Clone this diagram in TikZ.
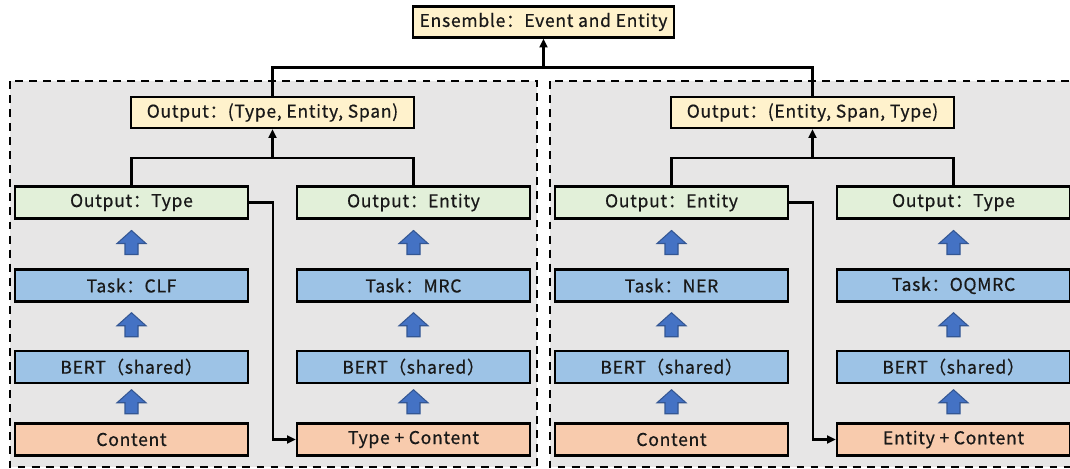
\documentclass[tikz,border=0pt]{standalone}
\usepackage{fontspec}
\setmainfont{Noto Sans CJK SC}[LetterSpace=4.0, FakeBold=0.6]
\usetikzlibrary{arrows.meta,calc}

\definecolor{fondo}{HTML}{E7E6E6}
\definecolor{amarillo}{HTML}{FFF2CC}
\definecolor{verde}{HTML}{E2F0D9}
\definecolor{azul}{HTML}{9DC3E6}
\definecolor{naranja}{HTML}{F8CBAD}
\definecolor{flecha}{HTML}{4472C4}

\begin{document}
\begin{tikzpicture}[x=0.02cm, y=-0.02cm,
    caja/.style={draw=black, line width=1.3pt, minimum width=4.66cm, minimum height=0.64cm,
        inner sep=0pt, text=black!90, font=\fontsize{10}{12}\selectfont},
    salida/.style={caja, fill=verde},
    tarea/.style={caja, fill=azul},
    entrada/.style={caja, fill=naranja},
    suma/.style={caja, fill=amarillo, minimum width=5.66cm, minimum height=0.62cm},
    panel/.style={draw=black, line width=1.3pt, fill=fondo, dash pattern=on 4.5pt off 3.5pt},
    linea/.style={draw=black, line width=1.5pt},
    conn/.style={linea, -{Triangle[length=5pt,width=4.5pt]}},
    subir/.pic={\draw[fill=flecha, draw=flecha!75!black, line width=0.6pt]
        (-6.5,12) -- (-6.5,1) -- (-14.5,1) -- (0,-12) -- (14.5,1) -- (6.5,1) -- (6.5,12) -- cycle;}]

    % Recorta al tamano de la figura
    \clip (0,0) rectangle (1070,469);

    % Dibuja los paneles
    \draw[panel] (10,81) rectangle (537,467);
    \draw[panel] (550,81) rectangle (1077,467);

    % Dibuja las cajas de arriba
    \node[suma, minimum width=5.22cm] (ens) at (543.5,22) {Ensemble：Event and Entity};
    \node[suma] (outL) at (272.5,112.5) {Output：(Type, Entity, Span)};
    \node[suma] (outR) at (812.5,112.5) {Output：(Entity, Span, Type)};

    % Dibuja el panel izquierdo
    \node[salida] (typeL) at (131.5,202.5) {Output：Type};
    \node[tarea] (clf) at (131.5,285.5) {Task：CLF};
    \node[tarea] (bertA) at (131.5,367) {BERT（shared）};
    \node[entrada] (contA) at (131.5,439.5) {Content};
    \node[salida] (entL) at (413.5,202.5) {Output：Entity};
    \node[tarea] (mrc) at (413.5,285.5) {Task：MRC};
    \node[tarea] (bertB) at (413.5,367) {BERT（shared）};
    \node[entrada] (typecont) at (413.5,439.5) {Type + Content};

    % Dibuja el panel derecho
    \node[salida] (entR) at (671.5,202.5) {Output：Entity};
    \node[tarea] (ner) at (671.5,285.5) {Task：NER};
    \node[tarea] (bertC) at (671.5,367) {BERT（shared）};
    \node[entrada] (contC) at (671.5,439.5) {Content};
    \node[salida] (typeR) at (953.5,202.5) {Output：Type};
    \node[tarea] (oqmrc) at (953.5,285.5) {Task：OQMRC};
    \node[tarea] (bertD) at (953.5,367) {BERT（shared）};
    \node[entrada] (entcont) at (953.5,439.5) {Entity + Content};

    % Dibuja las flechas gruesas
    \pic at ($(contA.north)!0.5!(bertA.south)+(0,-1.5)$) {subir};
    \pic at ($(bertA.north)!0.5!(clf.south)+(0,-1.5)$) {subir};
    \pic at ($(clf.north)!0.5!(typeL.south)+(0,-1.5)$) {subir};
    \pic at ($(typecont.north)!0.5!(bertB.south)+(0,-1.5)$) {subir};
    \pic at ($(bertB.north)!0.5!(mrc.south)+(0,-1.5)$) {subir};
    \pic at ($(mrc.north)!0.5!(entL.south)+(0,-1.5)$) {subir};
    \pic at ($(contC.north)!0.5!(bertC.south)+(0,-1.5)$) {subir};
    \pic at ($(bertC.north)!0.5!(ner.south)+(0,-1.5)$) {subir};
    \pic at ($(ner.north)!0.5!(entR.south)+(0,-1.5)$) {subir};
    \pic at ($(entcont.north)!0.5!(bertD.south)+(0,-1.5)$) {subir};
    \pic at ($(bertD.north)!0.5!(oqmrc.south)+(0,-1.5)$) {subir};
    \pic at ($(oqmrc.north)!0.5!(typeR.south)+(0,-1.5)$) {subir};

    % Dibuja las uniones
    \coordinate (jtop) at ($(ens.south)+(0,29)$);
    \draw[linea] (outL.north) |- (jtop);
    \draw[linea] (outR.north) |- (jtop);
    \draw[conn] (jtop) -- (ens.south);
    \coordinate (jL) at ($(outL.south)+(0,29)$);
    \draw[linea] (typeL.north) |- (jL);
    \draw[linea] (entL.north) |- (jL);
    \draw[conn] (jL) -- (outL.south);
    \coordinate (jR) at ($(outR.south)+(0,29)$);
    \draw[linea] (entR.north) |- (jR);
    \draw[linea] (typeR.north) |- (jR);
    \draw[conn] (jR) -- (outR.south);

    % Dibuja los atajos laterales
    \draw[conn] (typeL.east) -- ++(24,0) |- (typecont.west);
    \draw[conn] (entR.east) -- ++(24,0) |- (entcont.west);
\end{tikzpicture}
\end{document}
